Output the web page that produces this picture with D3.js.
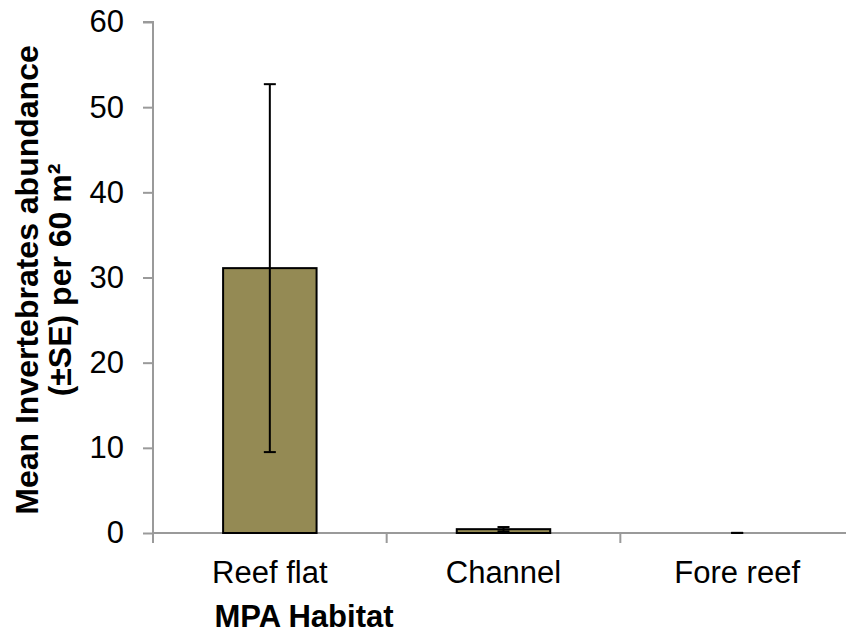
<!DOCTYPE html>
<html>
<head>
<meta charset="utf-8">
<script src="https://cdn.jsdelivr.net/npm/d3@7"></script>
<style>
  body { margin: 0; background: #fff; }
  text { font-family: "Liberation Sans", Arial, sans-serif; fill: #000; }
</style>
</head>
<body>
<div id="chart"></div>
<script>
// habitats and values
const habitats = ["Reef flat", "Channel", "Fore reef"];
const means = [31.1, 0.45, 0];
const errors = [21.6, 0.25, 0.02];
const yTicks = [0, 10, 20, 30, 40, 50, 60];

const width = 846;
const height = 635;
const margin = { top: 22, right: -8, bottom: 102, left: 153 };
const plotW = width - margin.left - margin.right;
const plotH = height - margin.top - margin.bottom;
const fs = 31;

const svg = d3.select("#chart")
    .append("svg")
    .attr("width", width)
    .attr("height", height);

const g = svg.append("g")
    .attr("transform", `translate(${margin.left},${margin.top})`);

const x = d3.scaleBand()
    .domain(habitats)
    .range([0, plotW])
    .paddingInner(0.6)
    .paddingOuter(0.3);

const y = d3.scaleLinear()
    .domain([0, 60])
    .range([plotH, 0]);

const axisColor = "#9a9a9a";

// y axis
g.append("g")
    .call(d3.axisLeft(y).tickValues(yTicks).tickSize(10).tickPadding(19))
    .call(a => a.select(".domain").attr("stroke", axisColor).attr("stroke-width", 2)
        .attr("d", `M0,${plotH}V0H-10`))
    .call(a => a.selectAll(".tick line").attr("stroke", axisColor).attr("stroke-width", 2))
    .call(a => a.selectAll(".tick text").attr("font-size", fs).attr("fill", "#000")
        .style("font-family", "Liberation Sans, Arial, sans-serif"));

// x axis line with ticks between categories
const step = x.step();
const boundaries = d3.range(habitats.length + 1).map(i => i * step);
const xa = g.append("g").attr("transform", `translate(0,${plotH})`);
xa.append("line")
    .attr("x1", 0).attr("x2", plotW)
    .attr("stroke", axisColor).attr("stroke-width", 2);
xa.selectAll(".bt")
    .data(boundaries)
    .join("line")
    .attr("x1", d => d).attr("x2", d => d)
    .attr("y1", 0).attr("y2", 10)
    .attr("stroke", axisColor).attr("stroke-width", 2);
xa.selectAll(".lab")
    .data(habitats)
    .join("text")
    .attr("x", d => x(d) + x.bandwidth() / 2)
    .attr("y", 50)
    .attr("text-anchor", "middle")
    .attr("font-size", fs)
    .text(d => d);

// bars
const data = habitats.map((h, i) => ({ h: h, m: means[i], e: errors[i] }));

g.selectAll(".bar")
    .data(data)
    .join("rect")
    .attr("x", d => x(d.h))
    .attr("y", d => y(d.m))
    .attr("width", x.bandwidth())
    .attr("height", d => y(0) - y(d.m))
    .attr("fill", "#948a54")
    .attr("stroke", "#000")
    .attr("stroke-width", 2);

// error bars
const cap = 6;
const eb = g.selectAll(".err")
    .data(data)
    .join("g")
    .attr("stroke", "#000")
    .attr("stroke-width", 2);
eb.append("line")
    .attr("x1", d => x(d.h) + x.bandwidth() / 2)
    .attr("x2", d => x(d.h) + x.bandwidth() / 2)
    .attr("y1", d => y(d.m + d.e))
    .attr("y2", d => y(Math.max(0, d.m - d.e)));
eb.append("line")
    .attr("x1", d => x(d.h) + x.bandwidth() / 2 - cap)
    .attr("x2", d => x(d.h) + x.bandwidth() / 2 + cap)
    .attr("y1", d => y(d.m + d.e))
    .attr("y2", d => y(d.m + d.e));
eb.append("line")
    .attr("x1", d => x(d.h) + x.bandwidth() / 2 - cap)
    .attr("x2", d => x(d.h) + x.bandwidth() / 2 + cap)
    .attr("y1", d => y(Math.max(0, d.m - d.e)))
    .attr("y2", d => y(Math.max(0, d.m - d.e)));

// axis titles
svg.append("text")
    .attr("x", 304)
    .attr("y", 627)
    .attr("text-anchor", "middle")
    .attr("font-size", fs)
    .attr("font-weight", "bold")
    .text("MPA Habitat");

const yt = svg.append("text")
    .attr("transform", "translate(38,280) rotate(-90)")
    .attr("text-anchor", "middle")
    .attr("font-size", 32)
    .attr("font-weight", "bold");
yt.append("tspan").attr("x", 0).attr("dy", 0).text("Mean Invertebrates abundance");
yt.append("tspan").attr("x", 0).attr("dy", 33).text("(±SE) per 60 m²");
</script>
</body>
</html>
